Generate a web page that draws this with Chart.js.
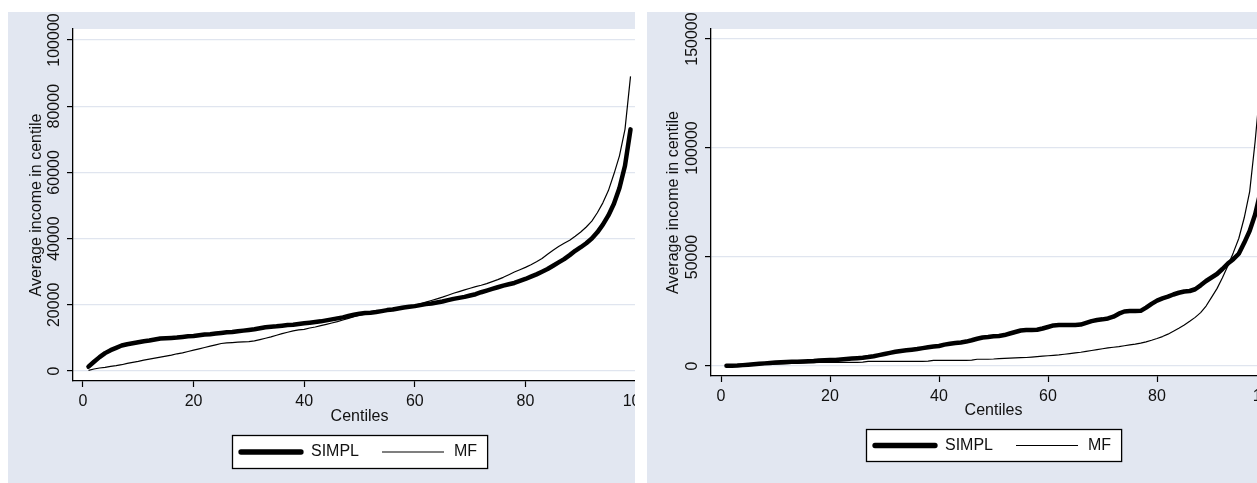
<!DOCTYPE html>
<html><head><meta charset="utf-8">
<script src="https://cdn.jsdelivr.net/npm/chart.js@4.4.1/dist/chart.umd.min.js"></script>
<style>
html,body{margin:0;padding:0;background:#fff;width:1257px;height:483px;overflow:hidden;}
.panel{position:absolute;top:12px;height:471px;overflow:hidden;background:#e2e7f1;}
#p1{left:8px;width:627px;}
#p2{left:647px;width:610px;}
canvas{position:absolute;left:0;top:0;}
</style></head><body>
<div class="panel" id="p1"><canvas id="c1" width="660" height="471"></canvas></div>
<div class="panel" id="p2"><canvas id="c2" width="651" height="471"></canvas></div>
<script>
// ---------- data ----------
const centiles = [1,2,3,4,5,6,7,8,9,10,11,12,13,14,15,16,17,18,19,20,21,22,23,24,25,26,27,28,29,30,31,32,33,34,35,36,37,38,39,40,41,42,43,44,45,46,47,48,49,50,51,52,53,54,55,56,57,58,59,60,61,62,63,64,65,66,67,68,69,70,71,72,73,74,75,76,77,78,79,80,81,82,83,84,85,86,87,88,89,90,91,92,93,94,95,96,97,98,99];

const leftSimpl = [1300,2800,4200,5400,6300,7000,7700,8100,8400,8700,9000,9200,9500,9800,9900,10000,10100,10300,10500,10600,10800,11000,11100,11300,11500,11700,11800,12000,12200,12400,12600,12900,13200,13400,13500,13700,13900,14000,14200,14400,14600,14800,15000,15300,15600,15900,16200,16600,17000,17300,17500,17600,17800,18100,18400,18600,18900,19200,19400,19600,19900,20200,20400,20700,21000,21400,21800,22100,22400,22800,23200,23800,24300,24800,25300,25800,26200,26600,27200,27800,28500,29200,30000,30800,31800,32800,33800,35000,36300,37400,38600,40000,41900,44200,47000,50500,55300,62000,73000];

const leftMF = [200,600,900,1100,1400,1600,1900,2300,2600,2900,3300,3600,3900,4200,4500,4800,5200,5500,5900,6300,6700,7100,7500,7900,8300,8500,8600,8700,8800,8900,9100,9500,9900,10300,10800,11300,11700,12100,12400,12600,13000,13300,13700,14100,14500,14900,15400,15900,16400,16900,17200,17500,17800,18000,18300,18600,18900,19200,19500,19900,20300,20800,21300,21800,22300,22900,23500,24000,24500,25000,25500,25900,26400,27000,27600,28300,29100,29900,30600,31300,32100,33000,34000,35300,36500,37600,38600,39500,40700,42000,43500,45300,47800,50800,54500,59500,65000,73000,89000];

const rightSimpl = [100,100,200,400,600,800,1000,1200,1400,1600,1700,1800,1900,2000,2100,2200,2300,2500,2600,2700,2800,3000,3200,3400,3600,3800,4100,4500,5000,5500,6000,6500,6900,7200,7500,7800,8200,8600,8900,9200,9800,10200,10500,10800,11200,11800,12500,13100,13300,13600,13800,14200,14900,15600,16300,16500,16500,16600,17200,17900,18600,18800,18800,18800,18800,19000,19800,20600,21100,21400,21800,22600,24000,25000,25200,25200,25300,26800,28500,30000,31000,31800,32800,33600,34200,34400,35200,37000,39000,40600,42200,44500,47000,49000,51500,56500,62000,69500,80000];

const rightMF = [0,100,200,300,400,500,600,700,800,900,1000,1100,1200,1300,1400,1500,1500,1600,1600,1700,1700,1700,1700,1700,1700,1800,2100,2100,2100,2100,2100,2100,2100,2100,2100,2100,2100,2200,2600,2600,2600,2600,2600,2600,2600,2700,3100,3100,3100,3200,3400,3500,3600,3700,3800,3900,4100,4300,4500,4700,4900,5100,5400,5700,6000,6300,6700,7100,7500,7900,8300,8600,8900,9300,9700,10000,10500,11100,11800,12600,13500,14600,15900,17300,18800,20500,22300,24500,27500,31500,35500,40500,46000,52000,58500,68000,80000,103000,130000];

const seriesNames = ['SIMPL', 'MF'];
const xTickValues = [0, 20, 40, 60, 80, 100];
const leftYTicks = [0, 20000, 40000, 60000, 80000, 100000];
const rightYTicks = [0, 50000, 100000, 150000];
const xTitle = 'Centiles';
const yTitle = 'Average income in centile';

// ---------- styling ----------
const FONT_FAMILY = "'Liberation Sans', Arial, Helvetica, sans-serif";
const FONT_SIZE = 16;
const TEXT = '#111';
const GRID = '#e0e5ef';
Chart.defaults.font.family = FONT_FAMILY;
Chart.defaults.font.size = FONT_SIZE;
Chart.defaults.color = TEXT;

const stataPlugin = {
  id: 'stata',
  beforeDraw(chart) {
    const {ctx, chartArea: a} = chart;
    ctx.save();
    ctx.fillStyle = '#ffffff';
    ctx.fillRect(a.left, a.top, a.right - a.left, a.bottom - a.top);
    ctx.restore();
  },
  afterDraw(chart, args, opts) {
    const ctx = chart.ctx, a = chart.chartArea, ys = chart.scales.y;
    ctx.save();
    ctx.font = FONT_SIZE + 'px ' + FONT_FAMILY;
    ctx.fillStyle = TEXT;
    ctx.textAlign = 'center';
    ctx.textBaseline = 'middle';
    // rotated y tick labels (Stata style)
    ys.ticks.forEach(t => {
      const py = ys.getPixelForValue(t.value);
      ctx.save();
      ctx.translate(a.left - opts.yLabelOffset, py);
      ctx.rotate(-Math.PI / 2);
      ctx.fillText(String(t.value), 0, 0);
      ctx.restore();
    });
    // boxed legend
    const d0 = chart.data.datasets[0], d1 = chart.data.datasets[1];
    const w1 = ctx.measureText(d0.label).width, w2 = ctx.measureText(d1.label).width;
    const L = {pad: 6, thick: 66, gap1: 7, gap2: 23, thin: 62, gap3: 10, padR: 10};
    const boxW = L.pad + L.thick + L.gap1 + w1 + L.gap2 + L.thin + L.gap3 + w2 + L.padR;
    const cx = (a.left + a.right) / 2;
    const bx = Math.round(cx - boxW / 2), by = a.bottom + opts.legendOffset, bh = opts.legendHeight;
    ctx.fillStyle = '#ffffff';
    ctx.fillRect(bx, by, boxW, bh);
    ctx.lineWidth = 1.3;
    ctx.strokeStyle = '#000';
    ctx.strokeRect(bx + 0.5, by + 0.5, boxW, bh);
    const my = by + bh / 2 + 0.5;
    let x = bx + L.pad;
    ctx.lineCap = 'round';
    ctx.strokeStyle = d0.borderColor; ctx.lineWidth = d0.borderWidth + 0.8;
    ctx.beginPath(); ctx.moveTo(x + 3, my); ctx.lineTo(x + L.thick - 3, my); ctx.stroke();
    x += L.thick + L.gap1;
    ctx.fillStyle = TEXT; ctx.textAlign = 'left';
    ctx.fillText(d0.label, x, my);
    x += w1 + L.gap2;
    ctx.lineCap = 'butt';
    ctx.strokeStyle = d1.borderColor; ctx.lineWidth = d1.borderWidth;
    ctx.beginPath(); ctx.moveTo(x, my); ctx.lineTo(x + L.thin, my); ctx.stroke();
    x += L.thin + L.gap3;
    ctx.fillText(d1.label, x, my);
    ctx.restore();
  }
};

function points(values) {
  return centiles.map((c, i) => ({x: c, y: values[i]}));
}

function makeChart(id, simpl, mf, yTicks, cfg) {
  return new Chart(document.getElementById(id), {
    type: 'line',
    data: {
      datasets: [
        {label: seriesNames[0], data: points(simpl), borderColor: '#000', borderWidth: 4.5,
         pointRadius: 0, tension: 0, borderJoinStyle: 'round', borderCapStyle: 'round', fill: false},
        {label: seriesNames[1], data: points(mf), borderColor: '#000', borderWidth: 1.2,
         pointRadius: 0, tension: 0, borderJoinStyle: 'round', fill: false}
      ]
    },
    options: {
      responsive: false,
      animation: false,
      devicePixelRatio: 1,
      layout: {padding: {left: 0, top: 17, right: 22, bottom: 0}},
      plugins: {
        legend: {display: false},
        title: {display: false},
        tooltip: {enabled: false},
        stata: {yLabelOffset: 18, legendOffset: cfg.legendOffset, legendHeight: cfg.legendHeight}
      },
      scales: {
        x: {
          type: 'linear', min: cfg.xMin, max: cfg.xMax,
          afterBuildTicks: s => { s.ticks = xTickValues.map(v => ({value: v})); },
          afterFit: s => { s.height = cfg.xHeight; },
          ticks: {padding: 5, color: TEXT, maxRotation: 0, minRotation: 0, autoSkip: false,
                  callback: v => String(v)},
          grid: {drawOnChartArea: false, drawTicks: true, tickLength: 6, tickColor: '#000', tickWidth: 1.2},
          border: {display: true, color: '#000', width: 1.3},
          title: {display: true, text: xTitle, color: TEXT, padding: {top: 0, bottom: cfg.xTitlePad}}
        },
        y: {
          type: 'linear', min: cfg.yMin, max: cfg.yMax,
          afterBuildTicks: s => { s.ticks = yTicks.map(v => ({value: v})); },
          afterFit: s => { s.width = cfg.yWidth; },
          ticks: {display: false},
          grid: {color: GRID, lineWidth: 1.2, drawTicks: true, tickLength: 6, tickColor: '#000', tickWidth: 1.2},
          border: {display: true, color: '#000', width: 1.3},
          title: {display: true, text: yTitle, color: TEXT, padding: {top: cfg.yTitlePad, bottom: 0}}
        }
      }
    },
    plugins: [stataPlugin]
  });
}

makeChart('c1', leftSimpl, leftMF, leftYTicks, {
  xMin: -1.8, xMax: 101.8, yMin: -3020, yMax: 103320,
  xHeight: 102, yWidth: 65, xTitlePad: 56.4, yTitlePad: 19.4,
  legendOffset: 54, legendHeight: 33
});
makeChart('c2', rightSimpl, rightMF, rightYTicks, {
  xMin: -1.835, xMax: 101.83, yMin: -4590, yMax: 154600,
  xHeight: 107, yWidth: 64, xTitlePad: 62.4, yTitlePad: 17.4,
  legendOffset: 53, legendHeight: 32
});
</script>
</body></html>
